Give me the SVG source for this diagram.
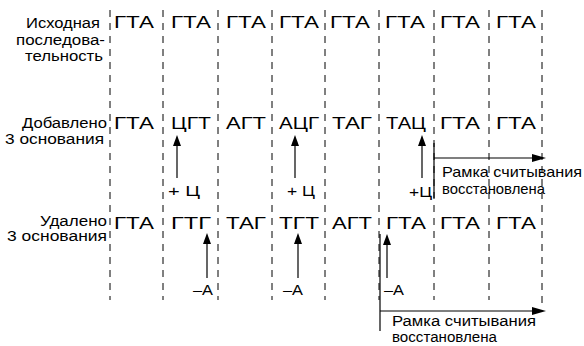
<svg xmlns="http://www.w3.org/2000/svg" width="584" height="346" viewBox="0 0 584 346">
<style>
text{font-family:"Liberation Sans",Arial,sans-serif;fill:#000}
.lbl{font-size:14px;text-anchor:end}
.cod{font-size:17px;text-anchor:middle}
.sm{font-size:15px}
.fr{font-size:14px}
.dash{stroke:#000;stroke-width:1;stroke-dasharray:7 6;fill:none}
.ln{stroke:#000;stroke-width:1.2;fill:none}
.hd{fill:#000}
</style>
<g id="grid">
<line class="dash" x1="110" y1="10" x2="110" y2="300"/>
<line class="dash" x1="163" y1="10" x2="163" y2="300"/>
<line class="dash" x1="218" y1="10" x2="218" y2="300"/>
<line class="dash" x1="272" y1="10" x2="272" y2="300"/>
<line class="dash" x1="325" y1="10" x2="325" y2="300"/>
<line class="dash" x1="379" y1="10" x2="379" y2="300"/>
<line class="dash" x1="434" y1="10" x2="434" y2="300"/>
<line class="dash" x1="489" y1="10" x2="489" y2="300"/>
<line class="dash" x1="542" y1="10" x2="542" y2="305"/>
</g>
<g id="row1">
<text class="lbl" x="100" y="28" textLength="74" lengthAdjust="spacingAndGlyphs">Исходная</text>
<text class="lbl" x="105" y="45" textLength="89" lengthAdjust="spacingAndGlyphs">последова-</text>
<text class="lbl" x="103" y="61" textLength="78" lengthAdjust="spacingAndGlyphs">тельность</text>
<text class="cod" x="134" y="28" textLength="40" lengthAdjust="spacingAndGlyphs">ГТА</text>
<text class="cod" x="191" y="28" textLength="40" lengthAdjust="spacingAndGlyphs">ГТА</text>
<text class="cod" x="246" y="28" textLength="40" lengthAdjust="spacingAndGlyphs">ГТА</text>
<text class="cod" x="299" y="28" textLength="40" lengthAdjust="spacingAndGlyphs">ГТА</text>
<text class="cod" x="350" y="28" textLength="40" lengthAdjust="spacingAndGlyphs">ГТА</text>
<text class="cod" x="405" y="28" textLength="40" lengthAdjust="spacingAndGlyphs">ГТА</text>
<text class="cod" x="460" y="28" textLength="40" lengthAdjust="spacingAndGlyphs">ГТА</text>
<text class="cod" x="516" y="28" textLength="40" lengthAdjust="spacingAndGlyphs">ГТА</text>
</g>
<g id="row2">
<text class="lbl" x="107" y="128" textLength="85" lengthAdjust="spacingAndGlyphs">Добавлено</text>
<text class="lbl" x="104" y="144" textLength="99" lengthAdjust="spacingAndGlyphs">3 основания</text>
<text class="cod" x="134" y="129" textLength="40" lengthAdjust="spacingAndGlyphs">ГТА</text>
<text class="cod" x="191" y="129" textLength="40" lengthAdjust="spacingAndGlyphs">ЦГТ</text>
<text class="cod" x="246" y="129" textLength="40" lengthAdjust="spacingAndGlyphs">АГТ</text>
<text class="cod" x="299" y="129" textLength="40" lengthAdjust="spacingAndGlyphs">АЦГ</text>
<text class="cod" x="352" y="129" textLength="40" lengthAdjust="spacingAndGlyphs">ТАГ</text>
<text class="cod" x="406" y="129" textLength="40" lengthAdjust="spacingAndGlyphs">ТАЦ</text>
<text class="cod" x="460" y="129" textLength="40" lengthAdjust="spacingAndGlyphs">ГТА</text>
<text class="cod" x="516" y="129" textLength="40" lengthAdjust="spacingAndGlyphs">ГТА</text>
</g>
<g id="row3">
<text class="lbl" x="107" y="226" textLength="67" lengthAdjust="spacingAndGlyphs">Удалено</text>
<text class="lbl" x="107" y="241" textLength="100" lengthAdjust="spacingAndGlyphs">3 основания</text>
<text class="cod" x="134" y="229" textLength="40" lengthAdjust="spacingAndGlyphs">ГТА</text>
<text class="cod" x="191" y="229" textLength="40" lengthAdjust="spacingAndGlyphs">ГТГ</text>
<text class="cod" x="246" y="229" textLength="40" lengthAdjust="spacingAndGlyphs">ТАГ</text>
<text class="cod" x="299" y="229" textLength="40" lengthAdjust="spacingAndGlyphs">ТГТ</text>
<text class="cod" x="352" y="229" textLength="40" lengthAdjust="spacingAndGlyphs">АГТ</text>
<text class="cod" x="406" y="229" textLength="40" lengthAdjust="spacingAndGlyphs">ГТА</text>
<text class="cod" x="460" y="229" textLength="40" lengthAdjust="spacingAndGlyphs">ГТА</text>
<text class="cod" x="516" y="229" textLength="40" lengthAdjust="spacingAndGlyphs">ГТА</text>
</g>
<g id="connectors">
<line class="ln" x1="177" y1="144" x2="177" y2="178"/>
<polygon class="hd" points="177,135 173,146 181,146"/>
<line class="ln" x1="295" y1="144" x2="295" y2="178"/>
<polygon class="hd" points="295,135 291,146 299,146"/>
<line class="ln" x1="422" y1="144" x2="422" y2="178"/>
<polygon class="hd" points="422,135 418,146 426,146"/>
<line class="ln" x1="434" y1="143" x2="434" y2="198"/>
<line class="ln" x1="434" y1="158" x2="533" y2="158"/>
<polygon class="hd" points="546,158 532,154 532,162"/>
<line class="ln" x1="207" y1="242" x2="207" y2="278"/>
<polygon class="hd" points="207,233 203,244 211,244"/>
<line class="ln" x1="298" y1="242" x2="298" y2="278"/>
<polygon class="hd" points="298,233 294,244 302,244"/>
<line class="ln" x1="387" y1="242" x2="387" y2="278"/>
<polygon class="hd" points="387,234 383,245 391,245"/>
<line class="ln" x1="380" y1="234" x2="380" y2="331"/>
<line class="ln" x1="380" y1="311" x2="533" y2="311"/>
<polygon class="hd" points="546,311 532,307 532,315"/>
</g>
<g id="labels">
<text class="sm" x="168" y="196" textLength="32" lengthAdjust="spacingAndGlyphs">+ Ц</text>
<text class="sm" x="287" y="196" textLength="28" lengthAdjust="spacingAndGlyphs">+ Ц</text>
<text class="sm" x="409" y="197" textLength="23" lengthAdjust="spacingAndGlyphs">+Ц</text>
<text class="sm" x="442" y="177" textLength="140" lengthAdjust="spacingAndGlyphs">Рамка считывания</text>
<text class="sm" x="442" y="194" textLength="103" lengthAdjust="spacingAndGlyphs">восстановлена</text>
<text class="sm" x="193" y="295" textLength="20" lengthAdjust="spacingAndGlyphs">–А</text>
<text class="sm" x="283" y="295" textLength="20" lengthAdjust="spacingAndGlyphs">–А</text>
<text class="sm" x="384" y="295" textLength="20" lengthAdjust="spacingAndGlyphs">–А</text>
<text class="fr" x="392" y="326" textLength="144" lengthAdjust="spacingAndGlyphs">Рамка считывания</text>
<text class="fr" x="392" y="342" textLength="105" lengthAdjust="spacingAndGlyphs">восстановлена</text>
</g>
</svg>
